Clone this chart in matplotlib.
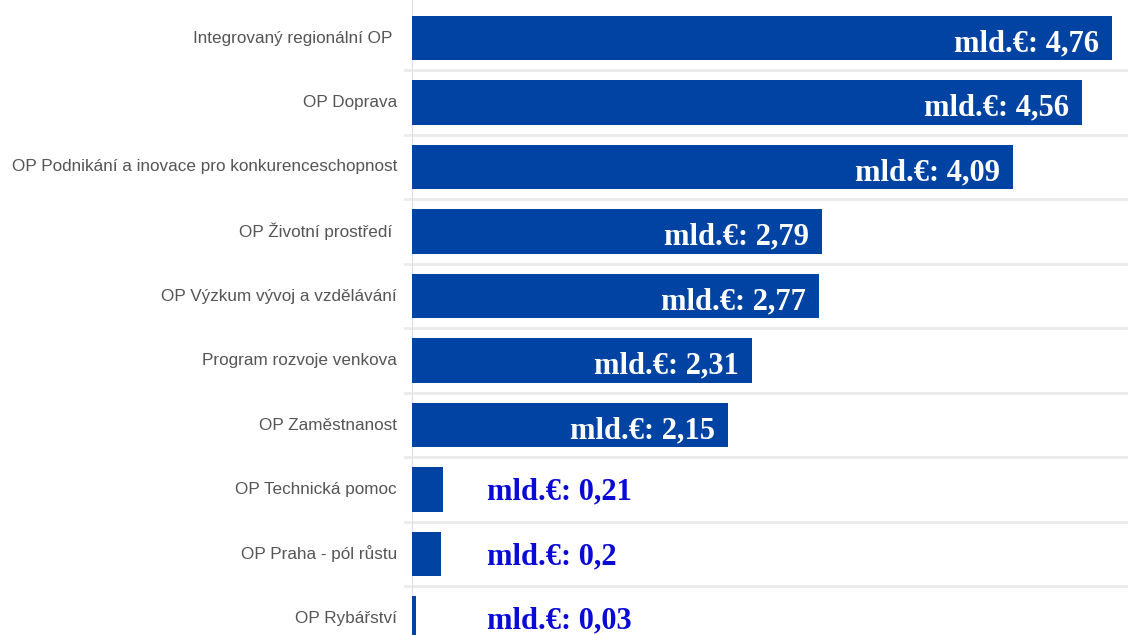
import matplotlib.pyplot as plt
import numpy as np

categories = [
    "Integrovaný regionální OP ",
    "OP Doprava",
    "OP Podnikání a inovace pro konkurenceschopnost",
    "OP Životní prostředí ",
    "OP Výzkum vývoj a vzdělávání",
    "Program rozvoje venkova",
    "OP Zaměstnanost",
    "OP Technická pomoc",
    "OP Praha - pól růstu",
    "OP Rybářství",
]
values = [4.76, 4.56, 4.09, 2.79, 2.77, 2.31, 2.15, 0.21, 0.20, 0.03]
value_labels = ["4,76", "4,56", "4,09", "2,79", "2,77", "2,31", "2,15", "0,21", "0,2", "0,03"]

bar_color = "#0043a3"
out_color = "#0a0ad6"
serif = ["Liberation Serif", "DejaVu Serif"]

fig = plt.figure(figsize=(11.28, 6.35), dpi=100)
ax = fig.add_axes([412 / 1128, 0, 1 - 412 / 1128, 1])

y = np.arange(len(values))
ax.barh(y, values, height=0.69, color=bar_color, zorder=3)

# row separators
for b in np.arange(0.5, len(values) - 0.5, 1):
    ax.axhline(b, color="#ebebeb", lw=2, zorder=1, xmin=-0.01, clip_on=False)
ax.axvline(0, color="#dddddd", lw=1.5, zorder=2)

ax.set_xlim(0, (1128 - 412) / 147)
ax.set_ylim((635 - 38) / 64.5, -38 / 64.5)

for i, (v, lab) in enumerate(zip(values, value_labels)):
    txt = "mld.€: " + lab
    if v > 1:
        ax.annotate(txt, (v, i), xytext=(-13, -13), textcoords="offset pixels",
                    ha="right", va="baseline", color="white", fontsize=22,
                    fontweight="bold", family=serif, zorder=4)
    else:
        ax.annotate(txt, (0, i), xytext=(75, -10), textcoords="offset pixels",
                    ha="left", va="baseline", color=out_color, fontsize=22,
                    fontweight="bold", family=serif, zorder=4)

for i, c in enumerate(categories):
    ax.annotate(c, (0, i), xytext=(-15, 0), textcoords="offset pixels",
                ha="right", va="center", color="#555555", fontsize=12.3,
                family=["Liberation Sans Narrow", "Liberation Sans", "DejaVu Sans"])

ax.set_xticks([])
ax.set_yticks([])
for s in ax.spines.values():
    s.set_visible(False)

fig.savefig("out.png", dpi=100)
